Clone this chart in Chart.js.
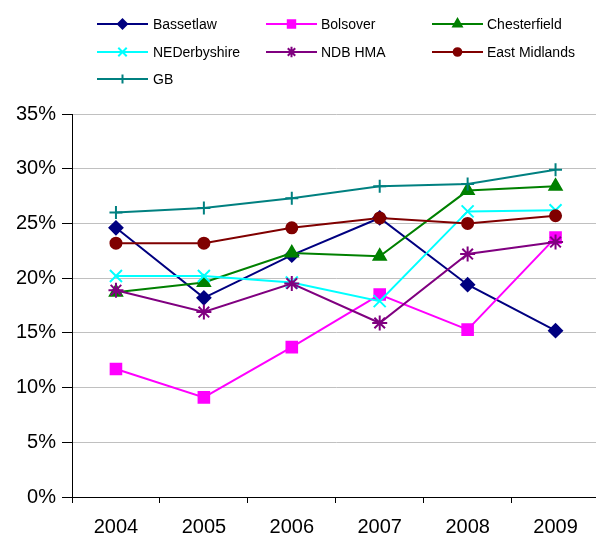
<!DOCTYPE html>
<html>
<head>
<meta charset="utf-8">
<script src="https://cdn.jsdelivr.net/npm/chart.js@4/dist/chart.umd.min.js"></script>
<style>
  html, body { margin: 0; padding: 0; background: #fff; overflow: hidden; }
  #wrap { position: relative; width: 596px; height: 538px; overflow: hidden; }
  canvas { position: absolute; left: 0; top: 0; }
</style>
</head>
<body>
<div id="wrap"><canvas id="c" width="610" height="538"></canvas></div>
<script>
// Years on the category axis
const years = ['2004', '2005', '2006', '2007', '2008', '2009'];

// Share (%) by area and year
const bassetlaw    = [24.6, 18.2, 22.1, 25.5, 19.4, 15.2];
const bolsover     = [11.7,  9.1, 13.7, 18.5, 15.3, 23.7];
const chesterfield = [18.7, 19.6, 22.3, 22.0, 28.0, 28.4];
const neDerbyshire = [20.2, 20.2, 19.6, 17.9, 26.1, 26.2];
const ndbHma       = [18.9, 16.9, 19.5, 15.9, 22.2, 23.3];
const eastMidlands = [23.2, 23.2, 24.6, 25.5, 25.0, 25.7];
const gb           = [26.0, 26.4, 27.3, 28.4, 28.6, 29.9];

// Y axis ticks
const yTicks = [0, 5, 10, 15, 20, 25, 30, 35];

const seriesNames = ['Bassetlaw', 'Bolsover', 'Chesterfield', 'NEDerbyshire', 'NDB HMA', 'East Midlands', 'GB'];
const seriesData = [bassetlaw, bolsover, chesterfield, neDerbyshire, ndbHma, eastMidlands, gb];
const seriesColors = ['#000080', '#FF00FF', '#008000', '#00FFFF', '#800080', '#800000', '#008080'];
const seriesMarkers = [
  { style: 'rectRot',  radius: 6.5 },
  { style: 'rect',     radius: 7.5 },
  { style: 'triangle', radius: 7 },
  { style: 'crossRot', radius: 8.5 },
  { style: 'star',     radius: 7.5 },
  { style: 'circle',   radius: 5.5 },
  { style: 'cross',    radius: 6.5 }
];

const datasets = seriesNames.map((name, i) => ({
  label: name,
  data: seriesData[i],
  borderColor: seriesColors[i],
  backgroundColor: seriesColors[i],
  borderWidth: 2,
  pointStyle: seriesMarkers[i].style,
  pointRadius: seriesMarkers[i].radius,
  pointBorderWidth: 2,
  pointBackgroundColor: seriesColors[i],
  pointBorderColor: seriesColors[i],
  tension: 0,
  order: seriesNames.length - i
}));

// Legend drawn in three columns: line sample with marker, then the name
const legendPlugin = {
  id: 'lineLegend',
  afterDraw(chart) {
    const ctx = chart.ctx;
    const cols = [{ x0: 97, tx: 153 }, { x0: 266, tx: 321 }, { x0: 432, tx: 487 }];
    const rows = [24, 52, 79];
    const lineLen = 51;
    ctx.save();
    ctx.font = '14px "Liberation Sans", Arial, sans-serif';
    ctx.textBaseline = 'middle';
    ctx.textAlign = 'left';
    chart.data.datasets.forEach((ds, i) => {
      const c = cols[i % 3];
      const y = rows[Math.floor(i / 3)];
      ctx.strokeStyle = ds.borderColor;
      ctx.lineWidth = 2;
      ctx.beginPath();
      ctx.moveTo(c.x0, y);
      ctx.lineTo(c.x0 + lineLen, y);
      ctx.stroke();
      ctx.fillStyle = ds.backgroundColor;
      Chart.helpers.drawPoint(ctx, {
        pointStyle: ds.pointStyle,
        radius: ds.pointRadius * 0.7,
        rotation: 0,
        borderWidth: 2
      }, c.x0 + lineLen / 2, y);
      ctx.fillStyle = '#000';
      ctx.fillText(ds.label, c.tx, y + 1);
    });
    ctx.restore();
  }
};

new Chart(document.getElementById('c'), {
  type: 'line',
  data: { labels: years, datasets },
  options: {
    responsive: false,
    animation: false,
    devicePixelRatio: 1,
    layout: { padding: { top: 114, left: 0, right: 8, bottom: 0 } },
    plugins: { legend: { display: false }, tooltip: { enabled: false } },
    scales: {
      x: {
        offset: true,
        grid: {
          offset: true,
          drawOnChartArea: false,
          tickLength: 6,
          tickColor: '#000',
          color: '#000'
        },
        border: { color: '#000', width: 1 },
        ticks: {
          color: '#000',
          padding: 12,
          maxRotation: 0,
          font: { family: '"Liberation Sans", Arial, sans-serif', size: 20 }
        },
        afterFit(scale) { scale.height = 41; }
      },
      y: {
        min: 0,
        max: 35,
        afterBuildTicks(scale) { scale.ticks = yTicks.map(v => ({ value: v })); },
        grid: {
          color: '#c0c0c0',
          tickColor: '#000',
          tickLength: 10,
          lineWidth: 1
        },
        border: { color: '#000', width: 1 },
        ticks: {
          color: '#000',
          padding: 6,
          callback: v => v + '%',
          font: { family: '"Liberation Sans", Arial, sans-serif', size: 20 }
        },
        afterFit(scale) { scale.width = 72; }
      }
    }
  },
  plugins: [legendPlugin]
});
</script>
</body>
</html>
